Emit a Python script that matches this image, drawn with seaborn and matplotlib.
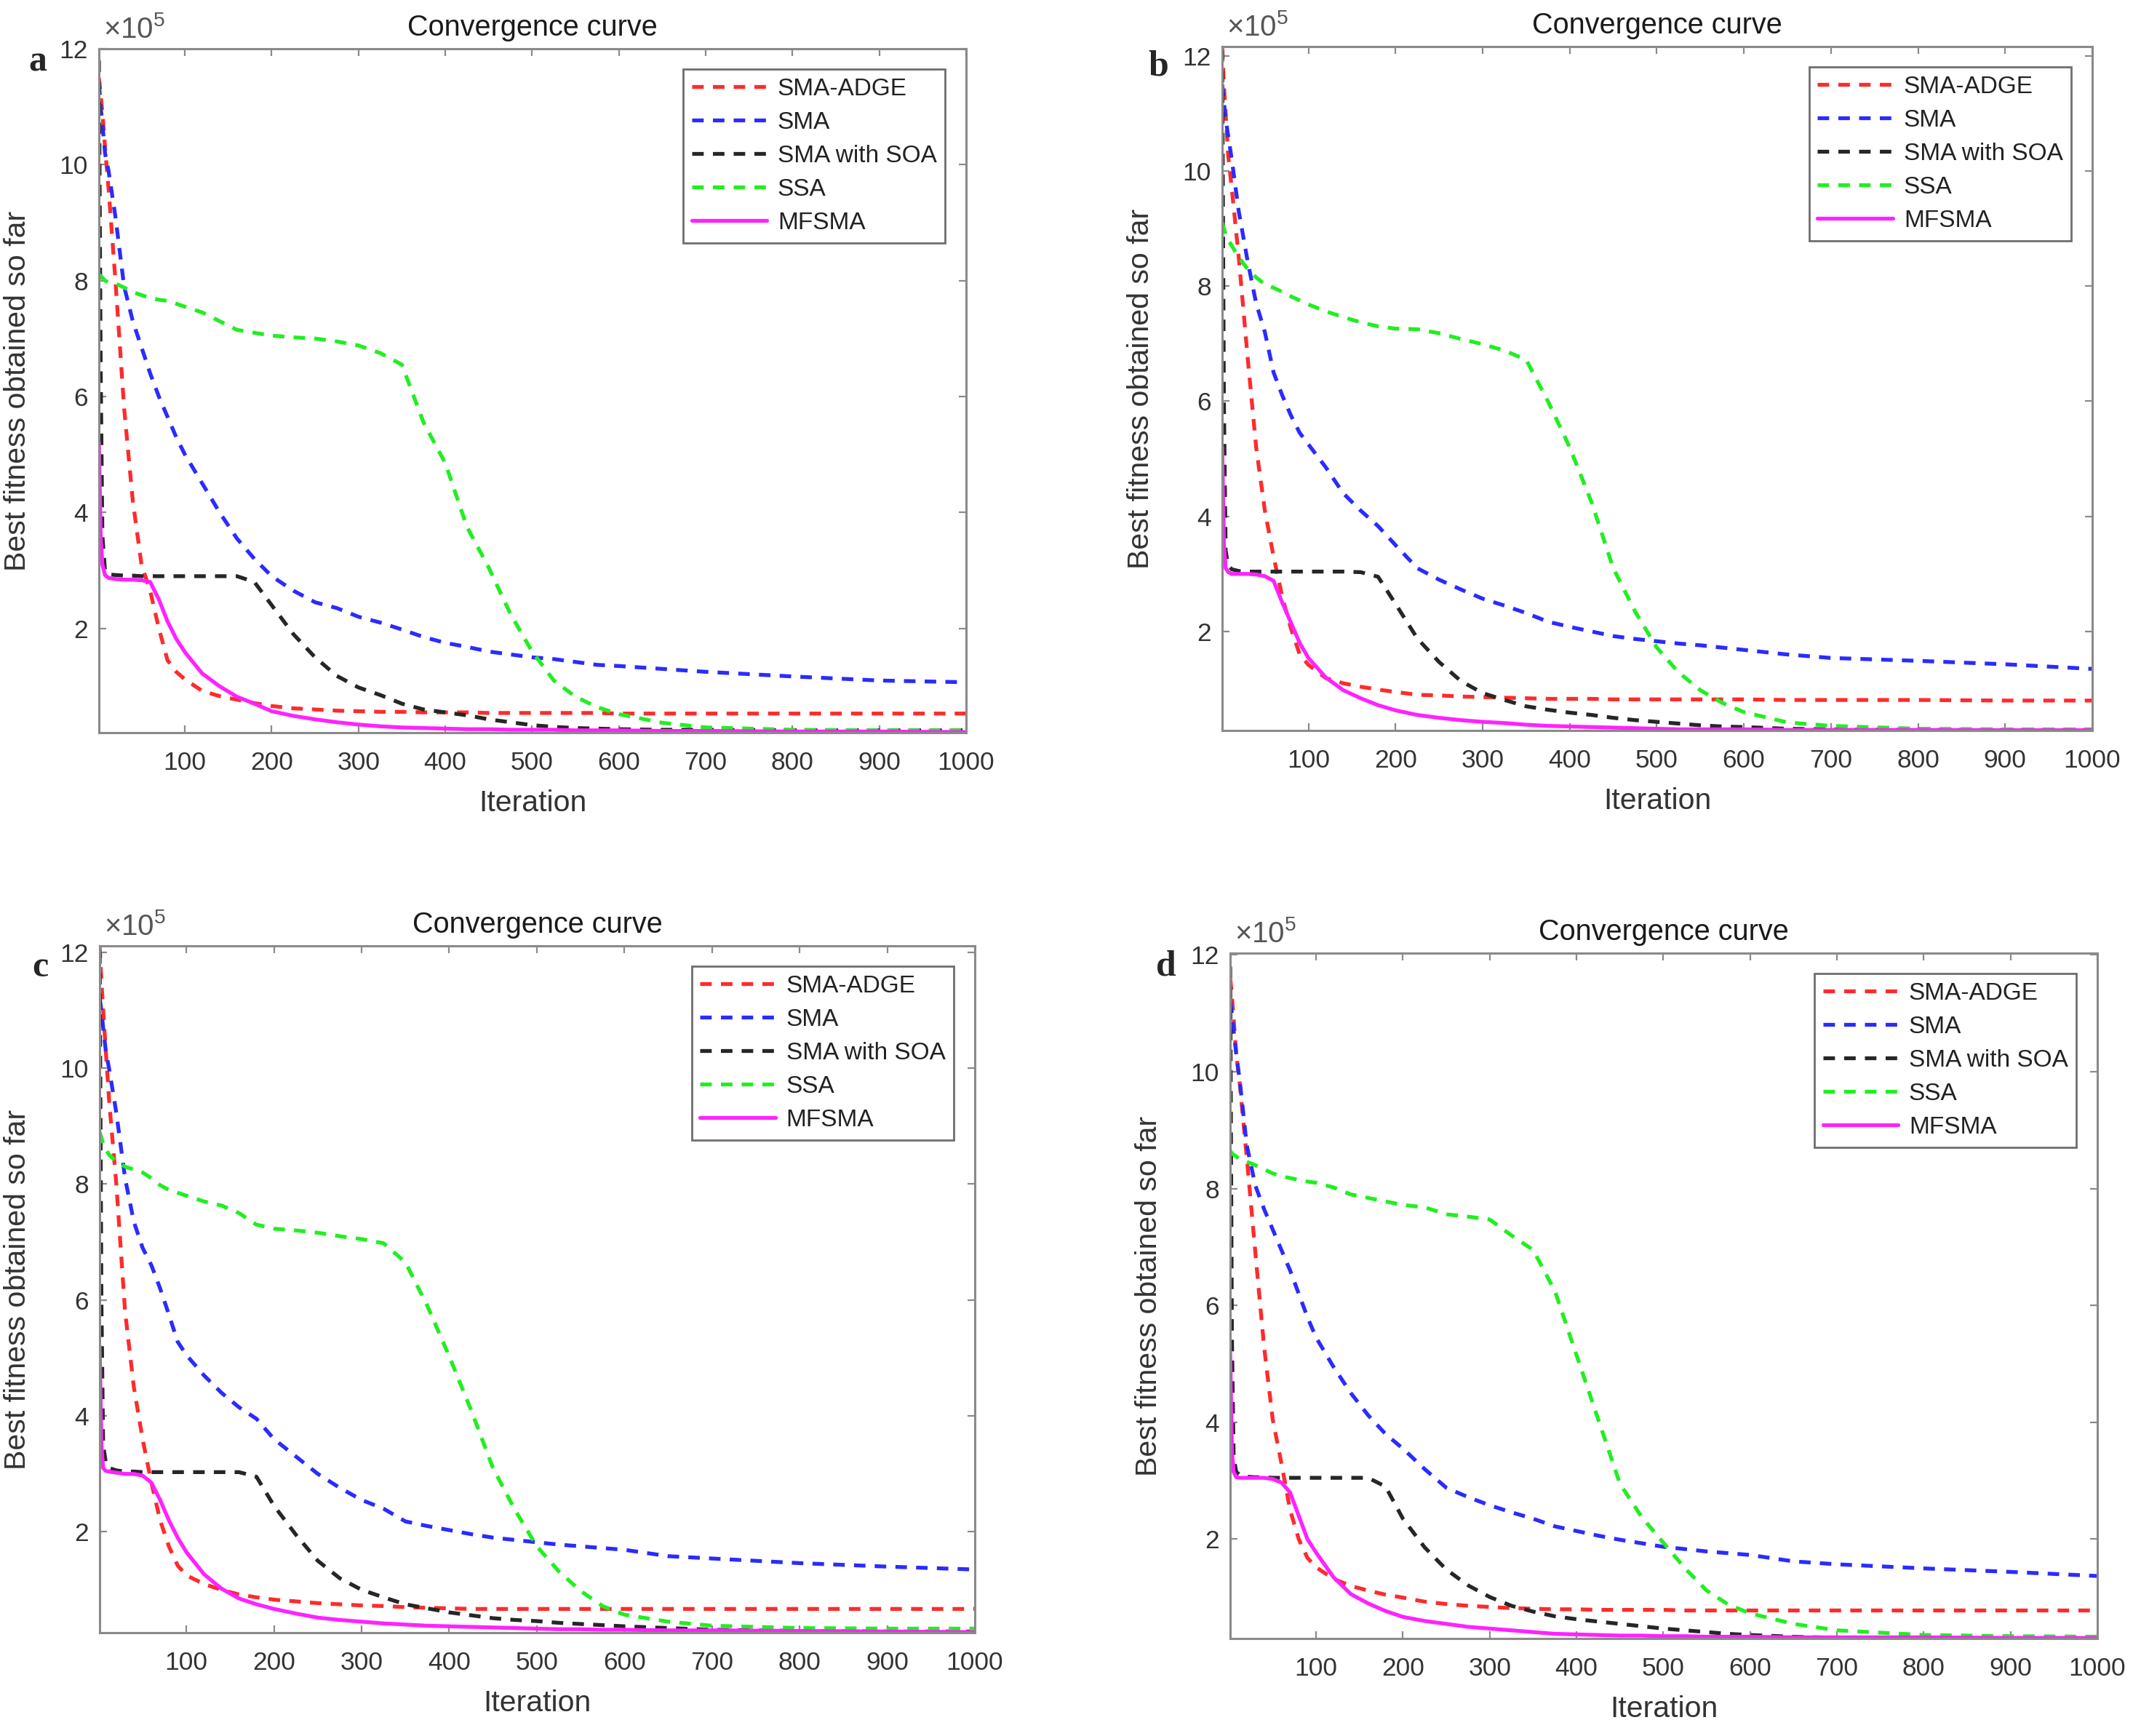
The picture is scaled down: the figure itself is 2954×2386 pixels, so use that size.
import numpy as np
import pandas as pd
import matplotlib
matplotlib.use("Agg")
import matplotlib.pyplot as plt
import seaborn as sns

# ---------------------------------------------------------------------------
# Data (fitness values in units of 1e5)
# ---------------------------------------------------------------------------
ITERATIONS = [1, 3, 5, 8, 12,
              20, 30, 40, 50, 60, 70, 80, 90, 100,
              120, 140, 160, 180, 200,
              225, 250, 275, 300, 325, 350, 375, 400, 425, 450, 475, 500, 525, 550, 575, 600,
              650, 700, 800, 900, 1000]

ALGORITHMS = ["SMA-ADGE", "SMA", "SMA with SOA", "SSA", "MFSMA"]

# panel a
A_SMA_ADGE = [11.5, 11.2, 10.9, 10.3, 9.6,
              8.0, 5.8, 4.2, 3.1, 2.65, 2.0, 1.45, 1.25, 1.12,
              0.92, 0.83, 0.77, 0.71, 0.66,
              0.62, 0.60, 0.58, 0.57, 0.56, 0.56, 0.55, 0.55, 0.55, 0.54, 0.54, 0.54, 0.54, 0.54, 0.54, 0.53,
              0.53, 0.53, 0.53, 0.53, 0.53]
A_SMA = [11.4, 11.0, 10.7, 10.2, 9.9,
         9.1, 7.9, 7.3, 6.85, 6.4, 6.0, 5.65, 5.3, 5.0,
         4.5, 4.0, 3.55, 3.2, 2.9,
         2.65, 2.45, 2.35, 2.2, 2.1, 1.98, 1.85, 1.75, 1.68, 1.6, 1.55, 1.5, 1.47, 1.42, 1.37, 1.35,
         1.3, 1.25, 1.17, 1.1, 1.07]
A_SMA_SOA = [11.8, 6.5, 3.6, 3.0, 2.93,
             2.92, 2.91, 2.91, 2.9, 2.9, 2.9, 2.9, 2.9, 2.9,
             2.9, 2.9, 2.9, 2.8, 2.4,
             1.9, 1.5, 1.18, 0.98, 0.85, 0.7, 0.6, 0.55, 0.5, 0.43, 0.38, 0.33, 0.3, 0.28, 0.27, 0.26,
             0.25, 0.25, 0.24, 0.24, 0.24]
A_SSA = [8.1, 8.08, 8.05, 8.0, 7.97,
         7.95, 7.88, 7.8, 7.75, 7.7, 7.67, 7.65, 7.6, 7.55,
         7.45, 7.3, 7.15, 7.1, 7.05,
         7.02, 7.0, 6.95, 6.88, 6.75, 6.55, 5.55, 4.85, 3.75, 3.05, 2.25, 1.6, 1.1, 0.82, 0.64, 0.52,
         0.37, 0.29, 0.25, 0.24, 0.24]
A_MFSMA = [5.2, 3.6, 3.1, 2.92, 2.87,
           2.85, 2.84, 2.84, 2.83, 2.8, 2.5, 2.12, 1.82, 1.59,
           1.22, 1.0, 0.82, 0.7, 0.57,
           0.49, 0.43, 0.38, 0.34, 0.31, 0.29, 0.28, 0.27, 0.26, 0.26, 0.25, 0.25, 0.25, 0.24, 0.24, 0.24,
           0.23, 0.23, 0.22, 0.22, 0.21]

# panel b
B_SMA_ADGE = [12.15, 11.5, 11.0, 10.25, 9.7,
              8.5, 6.8, 5.2, 4.1, 3.3, 2.6, 2.05, 1.6, 1.42,
              1.19, 1.1, 1.04, 0.99, 0.95,
              0.9, 0.89, 0.87, 0.86, 0.85, 0.84, 0.83, 0.83, 0.83, 0.82, 0.82, 0.82, 0.82, 0.82, 0.82, 0.82,
              0.81, 0.81, 0.81, 0.8, 0.8]
B_SMA = [11.5, 11.2, 10.9, 10.6, 10.2,
         9.3, 8.45, 7.7, 7.2, 6.5, 6.1, 5.75, 5.45, 5.25,
         4.85, 4.4, 4.1, 3.83, 3.5,
         3.1, 2.9, 2.73, 2.57, 2.45, 2.32, 2.17, 2.08, 2.0, 1.92, 1.87, 1.83, 1.79, 1.76, 1.72, 1.68,
         1.6, 1.54, 1.49, 1.43, 1.35]
B_SMA_SOA = [12.1, 6.0, 3.4, 3.15, 3.08,
             3.05, 3.04, 3.04, 3.04, 3.04, 3.04, 3.04, 3.04, 3.04,
             3.04, 3.04, 3.03, 2.95, 2.48,
             1.88, 1.47, 1.14, 0.93, 0.81, 0.7, 0.64, 0.59, 0.55, 0.5, 0.46, 0.43, 0.4, 0.37, 0.35, 0.34,
             0.31, 0.3, 0.29, 0.29, 0.29]
B_SSA = [9.1, 9.0, 8.9, 8.8, 8.7,
         8.5, 8.3, 8.15, 8.03, 7.97, 7.9, 7.82, 7.75, 7.68,
         7.56, 7.46, 7.37, 7.3, 7.26,
         7.25, 7.18, 7.08, 6.99, 6.88, 6.72, 6.0, 5.2, 4.25, 3.1, 2.35, 1.72, 1.29, 0.98, 0.76, 0.6,
         0.42, 0.36, 0.31, 0.3, 0.3]
B_MFSMA = [5.2, 3.5, 3.1, 3.03, 3.0,
           3.0, 3.0, 2.99, 2.96, 2.88, 2.5, 2.15, 1.8, 1.54,
           1.2, 0.98, 0.84, 0.72, 0.63,
           0.55, 0.5, 0.46, 0.43, 0.41, 0.38, 0.36, 0.35, 0.34, 0.33, 0.32, 0.31, 0.3, 0.3, 0.3, 0.3,
           0.29, 0.29, 0.29, 0.285, 0.285]

# panel c
C_SMA_ADGE = [12.1, 11.5, 11.0, 10.3, 9.4,
              8.0, 5.8, 4.5, 3.6, 2.85, 2.2, 1.75, 1.42, 1.25,
              1.1, 1.0, 0.92, 0.87, 0.83,
              0.8, 0.77, 0.75, 0.73, 0.72, 0.7, 0.69, 0.68, 0.67, 0.67, 0.67, 0.67, 0.67, 0.67, 0.67, 0.67,
              0.67, 0.67, 0.67, 0.67, 0.67]
C_SMA = [11.2, 11.0, 10.7, 10.3, 9.97,
         9.23, 8.1, 7.35, 6.9, 6.6, 6.2, 5.75, 5.28, 5.05,
         4.7, 4.4, 4.15, 3.95, 3.6,
         3.3, 3.0, 2.76, 2.55, 2.4, 2.18, 2.1, 2.03, 1.96, 1.9, 1.86, 1.82, 1.78, 1.75, 1.72, 1.69,
         1.58, 1.54, 1.46, 1.4, 1.35]
C_SMA_SOA = [12.0, 6.0, 3.5, 3.2, 3.1,
             3.06, 3.04, 3.04, 3.03, 3.03, 3.03, 3.03, 3.03, 3.03,
             3.03, 3.03, 3.03, 2.95, 2.45,
             1.95, 1.5, 1.2, 1.0, 0.87, 0.75, 0.68, 0.61, 0.56, 0.51, 0.48, 0.46, 0.43, 0.41, 0.39, 0.37,
             0.34, 0.31, 0.29, 0.28, 0.28]
C_SSA = [8.9, 8.8, 8.7, 8.6, 8.5,
         8.39, 8.3, 8.25, 8.2, 8.1, 7.98, 7.9, 7.85, 7.8,
         7.7, 7.63, 7.5, 7.3, 7.23,
         7.2, 7.16, 7.1, 7.05, 6.98, 6.65, 5.9, 5.03, 4.1, 3.1, 2.38, 1.75, 1.32, 0.98, 0.72, 0.57,
         0.45, 0.38, 0.34, 0.33, 0.33]
C_MFSMA = [5.2, 3.5, 3.1, 3.05, 3.04,
           3.02, 3.0, 3.0, 2.97, 2.85, 2.55, 2.2, 1.9, 1.65,
           1.27, 1.02, 0.85, 0.75, 0.67,
           0.59, 0.52, 0.48, 0.45, 0.42, 0.4, 0.38, 0.37, 0.36, 0.35, 0.34, 0.33, 0.32, 0.32, 0.31, 0.31,
           0.3, 0.3, 0.29, 0.28, 0.27]

# panel d
D_SMA_ADGE = [11.6, 11.3, 10.9, 10.3, 9.8,
              8.55, 6.9, 5.3, 4.05, 3.3, 2.5, 2.0, 1.68, 1.52,
              1.32, 1.2, 1.12, 1.05, 1.0,
              0.93, 0.89, 0.86, 0.84, 0.82, 0.81, 0.8, 0.8, 0.79, 0.79, 0.79, 0.79, 0.78, 0.78, 0.78, 0.78,
              0.78, 0.78, 0.78, 0.78, 0.78]
D_SMA = [11.2, 11.0, 10.7, 10.3, 9.85,
         8.75, 8.05, 7.65, 7.3, 6.95, 6.6, 6.2, 5.8, 5.45,
         4.95, 4.5, 4.12, 3.8, 3.55,
         3.2, 2.88, 2.72, 2.58, 2.46, 2.35, 2.22, 2.14, 2.06, 1.99, 1.93, 1.87, 1.83, 1.79, 1.76, 1.73,
         1.62, 1.57, 1.5, 1.44, 1.37]
D_SMA_SOA = [11.8, 5.5, 3.4, 3.15, 3.1,
             3.07, 3.06, 3.06, 3.05, 3.05, 3.05, 3.05, 3.05, 3.05,
             3.05, 3.05, 3.05, 2.9, 2.35,
             1.86, 1.48, 1.21, 1.01, 0.86, 0.76, 0.68, 0.63, 0.59, 0.55, 0.51, 0.47, 0.44, 0.41, 0.38, 0.36,
             0.33, 0.31, 0.3, 0.3, 0.3]
D_SSA = [8.65, 8.6, 8.58, 8.55, 8.5,
         8.46, 8.4, 8.33, 8.26, 8.21, 8.18, 8.15, 8.12, 8.1,
         8.02, 7.9, 7.84, 7.78, 7.72,
         7.68, 7.56, 7.52, 7.47, 7.2, 6.95, 6.25, 5.15, 4.05, 2.95, 2.38, 1.94, 1.5, 1.12, 0.88, 0.73,
         0.55, 0.44, 0.36, 0.34, 0.33]
D_MFSMA = [5.2, 3.5, 3.15, 3.06, 3.05,
           3.05, 3.05, 3.05, 3.03, 2.97, 2.8, 2.4, 2.0, 1.77,
           1.35, 1.06, 0.9, 0.77, 0.67,
           0.6, 0.55, 0.5, 0.47, 0.44, 0.41, 0.38, 0.37, 0.36, 0.35, 0.35, 0.34, 0.34, 0.33, 0.33, 0.33,
           0.32, 0.32, 0.32, 0.31, 0.31]

PANEL_LETTERS = ["a", "b", "c", "d"]
PANEL_SERIES = [
    [A_SMA_ADGE, A_SMA, A_SMA_SOA, A_SSA, A_MFSMA],
    [B_SMA_ADGE, B_SMA, B_SMA_SOA, B_SSA, B_MFSMA],
    [C_SMA_ADGE, C_SMA, C_SMA_SOA, C_SSA, C_MFSMA],
    [D_SMA_ADGE, D_SMA, D_SMA_SOA, D_SSA, D_MFSMA],
]
PANEL_YLIMS = [(0.20, 12.0), (0.28, 12.16), (0.26, 12.11), (0.30, 12.03)]
Y_TICKS = [2, 4, 6, 8, 10, 12]
X_TICKS = [100, 200, 300, 400, 500, 600, 700, 800, 900, 1000]

# ---------------------------------------------------------------------------
# Style
# ---------------------------------------------------------------------------
COLORS = {"SMA-ADGE": "#FF2B2B", "SMA": "#2B2BFF", "SMA with SOA": "#262626",
          "SSA": "#22EE22", "MFSMA": "#FF22FF"}
DASHES = {"SMA-ADGE": (3, 2.4), "SMA": (3, 2.4), "SMA with SOA": (3, 2.4),
          "SSA": (3, 2.4), "MFSMA": ""}

sns.set_style("ticks")
plt.rcParams["font.family"] = ["Liberation Sans", "DejaVu Sans"]
plt.rcParams["mathtext.fontset"] = "custom"
plt.rcParams["mathtext.rm"] = "Liberation Sans"
plt.rcParams["mathtext.it"] = "Liberation Sans:italic"

W, H = 2954, 2386
# axes boxes in pixels: left, top, right, bottom
AXES_BOXES = [(136, 67, 1328, 1007), (1680, 64, 2876, 1004),
              (137, 1300, 1340, 2244), (1691, 1310, 2883, 2252)]
LETTER_POS = [(52, 85), (1592, 92), (55, 1330), (1603, 1328)]

SPINE = "#8a8a8a"
TEXT = "#333333"

fig = plt.figure(figsize=(W / 100, H / 100), dpi=100)

for letter, series, ylim, box, lpos in zip(PANEL_LETTERS, PANEL_SERIES, PANEL_YLIMS,
                                           AXES_BOXES, LETTER_POS):
    l, t, r, b = box
    ax = fig.add_axes([l / W, 1 - b / H, (r - l) / W, (b - t) / H])

    df = pd.concat([
        pd.DataFrame({"Iteration": ITERATIONS, "Fitness": vals, "Algorithm": name})
        for name, vals in zip(ALGORITHMS, series)
    ], ignore_index=True)

    sns.lineplot(data=df, x="Iteration", y="Fitness", hue="Algorithm", style="Algorithm",
                 hue_order=ALGORITHMS, style_order=ALGORITHMS, palette=COLORS,
                 dashes=DASHES, linewidth=3.8, errorbar=None, ax=ax)

    ax.set_xlim(1, 1000)
    ax.set_ylim(*ylim)
    ax.set_xticks(X_TICKS)
    ax.set_xticklabels([str(v) for v in X_TICKS])
    ax.set_yticks(Y_TICKS)
    ax.set_yticklabels([str(v) for v in Y_TICKS])

    for sp in ax.spines.values():
        sp.set_visible(True)
        sp.set_color(SPINE)
        sp.set_linewidth(2.2)
    ax.tick_params(axis="both", direction="in", length=7, width=1.6, colors=SPINE,
                   labelcolor=TEXT, labelsize=25.5, top=True, right=True)
    ax.tick_params(axis="x", pad=18)
    ax.tick_params(axis="y", pad=11)

    ax.set_title("Convergence curve", fontsize=28.5, pad=13, color="#1a1a1a")
    ax.set_xlabel("Iteration", fontsize=29.5, color=TEXT)
    ax.set_ylabel("Best fitness obtained so far", fontsize=29.5, color=TEXT)
    ax.xaxis.set_label_coords(0.5, -0.083)
    ax.yaxis.set_label_coords(-0.078, 0.5)

    ax.annotate(r"$\times$10$^{5}$", xy=(0, 1), xycoords="axes fraction",
                xytext=(4, 5), textcoords="offset points", ha="left", va="bottom",
                fontsize=29, color="#555555")

    handles, labels = ax.get_legend_handles_labels()
    leg = ax.legend(handles, labels, loc="upper right", bbox_to_anchor=(0.976, 0.970),
                    borderaxespad=0, fontsize=24, frameon=True, fancybox=False,
                    edgecolor="#6e6e6e", framealpha=1, handlelength=3.1,
                    handletextpad=0.45, labelspacing=0.45, borderpad=0.35)
    leg.get_frame().set_linewidth(2)
    for txt in leg.get_texts():
        txt.set_color("#222222")

    fig.text(lpos[0] / W, 1 - lpos[1] / H, letter, ha="center", va="center",
             fontsize=36, fontweight="bold", family=["Liberation Serif", "DejaVu Serif"])

fig.savefig("out.png", dpi=100)
